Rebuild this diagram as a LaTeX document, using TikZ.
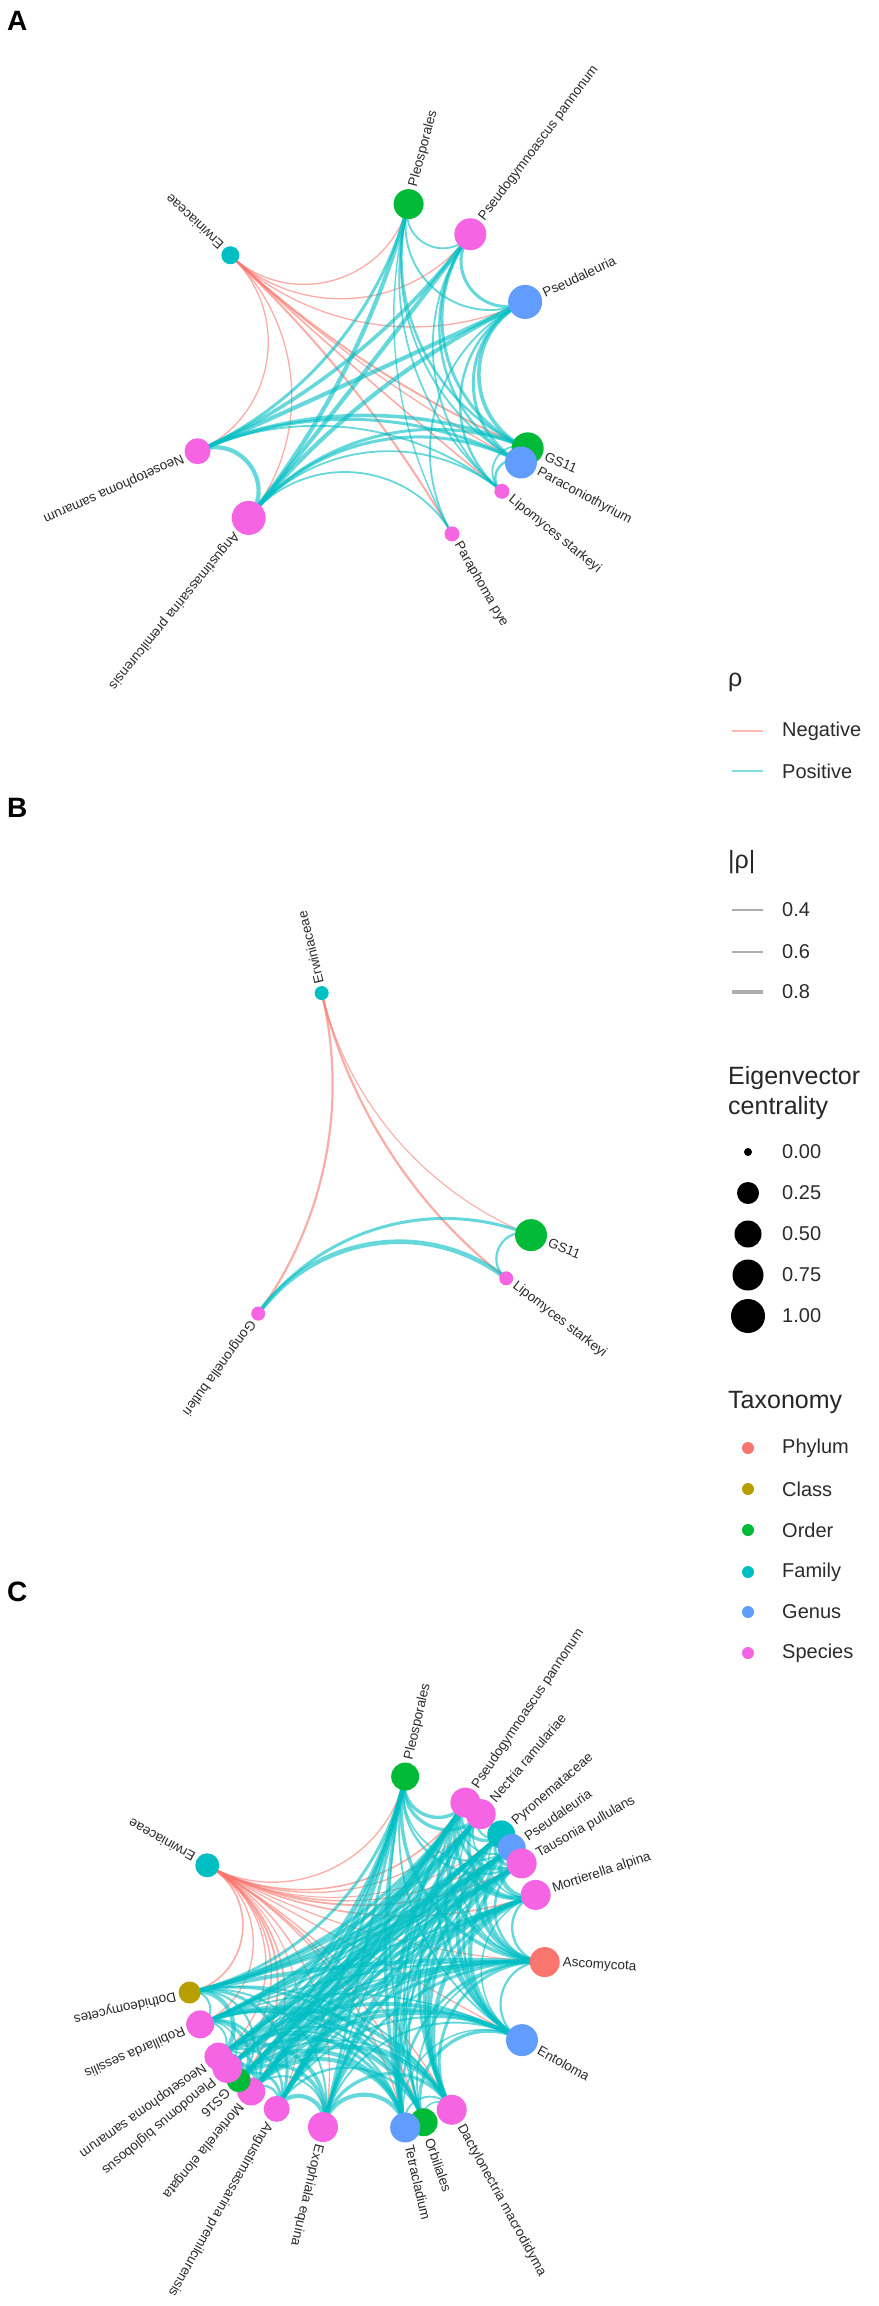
\documentclass[tikz,border=0pt]{standalone}
\usepackage{fontspec}
\setmainfont{Liberation Sans}
\usetikzlibrary{calc}
\pgfdeclarelayer{bg}
\pgfsetlayers{bg,main}
\definecolor{cPhy}{HTML}{F8766D}
\definecolor{cCla}{HTML}{B79F00}
\definecolor{cOrd}{HTML}{00BA38}
\definecolor{cFam}{HTML}{00BFC4}
\definecolor{cGen}{HTML}{619CFF}
\definecolor{cSpe}{HTML}{F564E3}
\definecolor{negc}{HTML}{F8766D}
\definecolor{posc}{HTML}{00BFC4}
\definecolor{txt}{HTML}{2B2B2B}

\newcommand{\setang}[2]{\expandafter\xdef\csname gang#1\endcsname{#2}}
\newcommand{\getang}[1]{\csname gang#1\endcsname}
% node on circle: name, centre, angle, radius, colour, label
\newcommand{\gn}[6]{%
  \setang{#1}{#3}%
  \node[gnode, fill=#5, minimum size={2*#4}] (#1) at ($(#2)+({#3}:180)$) {};%
  \node[glabel, rotate=#3] (#1-l) at ($(#1)+({#3}:{#4+3})$) {#6};%
}
% geodesic edge: node a, node b, centre, style
\newcommand{\gedge}[4]{%
  \pgfmathsetmacro{\gd}{abs((\getang{#1})-(\getang{#2}))}%
  \pgfmathsetmacro{\gd}{\gd>180 ? 360-\gd : \gd}%
  \pgfmathsetmacro{\gd}{min(\gd,179.5)}%
  \pgfmathsetmacro{\gf}{4/3*tan((180-\gd)/4)*tan(\gd/2)}%
  \draw[#4] (#1.center) .. controls ($(#1.center)!\gf!(#3)$) and ($(#2.center)!\gf!(#3)$) .. (#2.center);%
}

\tikzset{
  gnode/.style={circle, inner sep=0pt, draw=none},
  glabel/.style={anchor=west, inner sep=0pt, text=txt, font=\fontsize{13.5}{16}\selectfont},
  negedge/.style={draw=negc, opacity=0.6, line cap=round},
  posedge/.style={draw=posc, opacity=0.6, line cap=round},
  ltext/.style={anchor=west, inner sep=0pt, text=txt, font=\fontsize{20}{24}\selectfont},
  ltitle/.style={anchor=west, inner sep=0pt, text=black!85, font=\fontsize{25}{30}\selectfont},
  plabel/.style={anchor=base west, inner sep=0pt, font=\fontsize{28}{32}\selectfont\bfseries},
  lkey/.style={line width=#1, draw=gray!80, opacity=0.8},
}

\begin{document}
\begin{tikzpicture}[x=1pt,y=1pt]
\pgfmathsetseed{4242}
\path[use as bounding box] (0,0) rectangle (878,-2306);
\begin{pgfonlayer}{bg}
\fill[white] (0,0) rectangle (878,-2306);
\end{pgfonlayer}

\coordinate (OA) at (362,-378);
\coordinate (OB) at (364,-1168);
\coordinate (OC) at (365,-1952);

% ---------------- Panel A ----------------
\node[plabel] (lblA) at (7,-31) {A};
\gn{A-erw}{OA}{137}{9}{cFam}{Erwiniaceae}
\gn{A-ang}{OA}{231}{17}{cSpe}{Angustimassarina premilcurensis}
\gn{A-neo}{OA}{204}{13}{cSpe}{Neosetophoma samarum}
\gn{A-ple}{OA}{75}{15}{cOrd}{Pleosporales}
\gn{A-psg}{OA}{53}{16}{cSpe}{Pseudogymnoascus pannonum}
\gn{A-psa}{OA}{25}{17}{cGen}{Pseudaleuria}
\gn{A-gs}{OA}{-23}{16}{cOrd}{GS11}
\gn{A-par}{OA}{-28}{16}{cGen}{Paraconiothyrium}
\gn{A-lip}{OA}{-39}{7.5}{cSpe}{Lipomyces starkeyi}
\gn{A-pph}{OA}{-60}{7.5}{cSpe}{Paraphoma pye}

\begin{pgfonlayer}{bg}
\foreach \b/\w in {ple/1.3, psg/1.3, psa/1.3, gs/2.0, par/1.3, lip/1.6, pph/2.0, neo/1.3, ang/1.3}
  {\gedge{A-erw}{A-\b}{OA}{negedge, line width=\w pt}}
\foreach \a/\b/\w in {ple/psg/1.8, ple/psa/1.9, ple/gs/2.4, ple/par/1.8, ple/ang/4.2, ple/neo/3.0, ple/pph/1.4, ple/lip/1.7,
  psg/psa/3.0, psg/gs/3.0, psg/par/2.4, psg/lip/1.8, psg/neo/3.6, psg/ang/4.2,
  psa/gs/3.6, psa/par/3.0, psa/lip/2.4, psa/pph/1.8, psa/neo/4.2, psa/ang/4.2,
  gs/par/1.8, gs/lip/1.8, gs/neo/3.6, gs/ang/3.0,
  par/lip/2.4, par/neo/3.0, par/ang/3.0,
  lip/ang/1.8, lip/neo/1.8, pph/ang/1.8, neo/ang/4.2}
  {\gedge{A-\a}{A-\b}{OA}{posedge, line width=\w pt}}
\end{pgfonlayer}

% ---------------- Panel B ----------------
\node[plabel] (lblB) at (7,-817) {B};
\gn{B-erw}{OB}{103.6}{7}{cFam}{Erwiniaceae}
\gn{B-gon}{OB}{234}{7}{cSpe}{Gongronella butleri}
\gn{B-gs}{OB}{-21.9}{16}{cOrd}{GS11}
\gn{B-lip}{OB}{-37.8}{7}{cSpe}{Lipomyces starkeyi}
\begin{pgfonlayer}{bg}
\gedge{B-erw}{B-gon}{OB}{negedge, line width=2.2pt}
\gedge{B-erw}{B-lip}{OB}{negedge, line width=2.2pt}
\gedge{B-erw}{B-gs}{OB}{negedge, line width=1.1pt}
\gedge{B-gon}{B-gs}{OB}{posedge, line width=3pt}
\gedge{B-gon}{B-lip}{OB}{posedge, line width=4.6pt}
\gedge{B-gs}{B-lip}{OB}{posedge, line width=2.2pt}
\end{pgfonlayer}

% ---------------- Panel C ----------------
\node[plabel] (lblC) at (7,-1601) {C};
\gn{C21}{OC}{151.2}{12}{cFam}{Erwiniaceae}
\gn{C1}{OC}{77.1}{14}{cOrd}{Pleosporales}
\gn{C2}{OC}{56.1}{15}{cSpe}{Pseudogymnoascus pannonum}
\gn{C3}{OC}{50.0}{15}{cSpe}{Nectria ramulariae}
\gn{C4}{OC}{40.8}{14}{cFam}{Pyronemataceae}
\gn{C5}{OC}{35.4}{14}{cGen}{Pseudaleuria}
\gn{C6}{OC}{29.5}{15}{cSpe}{Tausonia pullulans}
\gn{C7}{OC}{18.5}{15}{cSpe}{Mortierella alpina}
\gn{C8}{OC}{-3.2}{15}{cPhy}{Ascomycota}
\gn{C9}{OC}{-29.3}{16}{cGen}{Entoloma}
\gn{C10}{OC}{-61.2}{15}{cSpe}{Dactylonectria macrodidyma}
\gn{C11}{OC}{-71}{14}{cOrd}{Orbiliales}
\gn{C12}{OC}{-77.1}{15}{cGen}{Tetracladium}
\gn{C13}{OC}{-103.5}{15}{cSpe}{Exophiala equina}
\gn{C14}{OC}{-119.4}{13}{cSpe}{Angustimassarina premilcurensis}
\gn{C15}{OC}{-129.2}{14}{cSpe}{Mortierella elongata}
\gn{C16}{OC}{-134.6}{12}{cOrd}{GS16}
\gn{C17}{OC}{-139.9}{15}{cSpe}{Plenodomus biglobosus}
\gn{C18}{OC}{-144.5}{14}{cSpe}{Neosetophoma samarum}
\gn{C19}{OC}{-156.3}{14}{cSpe}{Robillarda sessilis}
\gn{C20}{OC}{-167}{11}{cCla}{Dothideomycetes}

\begin{pgfonlayer}{bg}
\foreach \j in {1,...,20}{%
  \pgfmathsetmacro{\w}{1.0+rnd*1.1}%
  \gedge{C21}{C\j}{OC}{negedge, line width=\w pt}%
}
\foreach \i in {1,...,19}{%
  \pgfmathtruncatemacro{\jstart}{\i+1}%
  \foreach \j in {\jstart,...,20}{%
    \pgfmathtruncatemacro{\keep}{rnd<0.82 ? 1 : 0}%
    \ifnum\keep=1
      \pgfmathsetmacro{\w}{1.4+rnd*3.0}%
      \gedge{C\i}{C\j}{OC}{posedge, line width=\w pt}%
    \fi
  }%
}
\end{pgfonlayer}

% ---------------- Legend ----------------
\node[ltitle] (L-rho) at (728,-682) {ρ};
\coordinate (k1a) at (732,-731); \coordinate (k1b) at (763,-731);
\draw[negc, opacity=0.5, line width=2pt] (k1a) -- (k1b);
\node[ltext] (L-neg) at (782,-731) {Negative};
\coordinate (k2a) at (732,-771); \coordinate (k2b) at (763,-771);
\draw[posc, opacity=0.5, line width=2pt] (k2a) -- (k2b);
\node[ltext] (L-pos) at (782,-771) {Positive};

\node[ltitle] (L-arho) at (728,-862) {|ρ|};
\coordinate (k3a) at (732,-910); \coordinate (k3b) at (763,-910);
\draw[lkey=1.5pt] (k3a) -- (k3b);
\node[ltext] (L-04) at (782,-910) {0.4};
\coordinate (k4a) at (732,-952); \coordinate (k4b) at (763,-952);
\draw[lkey=2.6pt] (k4a) -- (k4b);
\node[ltext] (L-06) at (782,-952) {0.6};
\coordinate (k5a) at (732,-992); \coordinate (k5b) at (763,-992);
\draw[lkey=3.7pt] (k5a) -- (k5b);
\node[ltext] (L-08) at (782,-992) {0.8};

\node[ltitle] (L-eig1) at (728,-1078) {Eigenvector};
\node[ltitle] (L-eig2) at (728,-1108) {centrality};
\foreach \yy/\rr/\tt/\nn in {1152/4/0.00/a, 1193/11/0.25/b, 1234/13.5/0.50/c, 1275/15.5/0.75/d, 1316/17/1.00/e}{
  \node[gnode, fill=black, minimum size={2*\rr}] (L-c\nn) at (748,-\yy) {};
  \node[ltext] (L-ct\nn) at (782,-\yy) {\tt};
}

\node[ltitle] (L-tax) at (728,-1402) {Taxonomy};
\foreach \yy/\cc/\tt/\nn in {1448/cPhy/Phylum/a, 1489/cCla/Class/b, 1530/cOrd/Order/c, 1572/cFam/Family/d, 1612/cGen/Genus/e, 1653/cSpe/Species/f}{
  \node[gnode, fill=\cc, minimum size=12] (L-t\nn) at (748,-\yy) {};
  \node[ltext] (L-tt\nn) at (782,-\yy) {\tt};
}
\end{tikzpicture}
\end{document}
